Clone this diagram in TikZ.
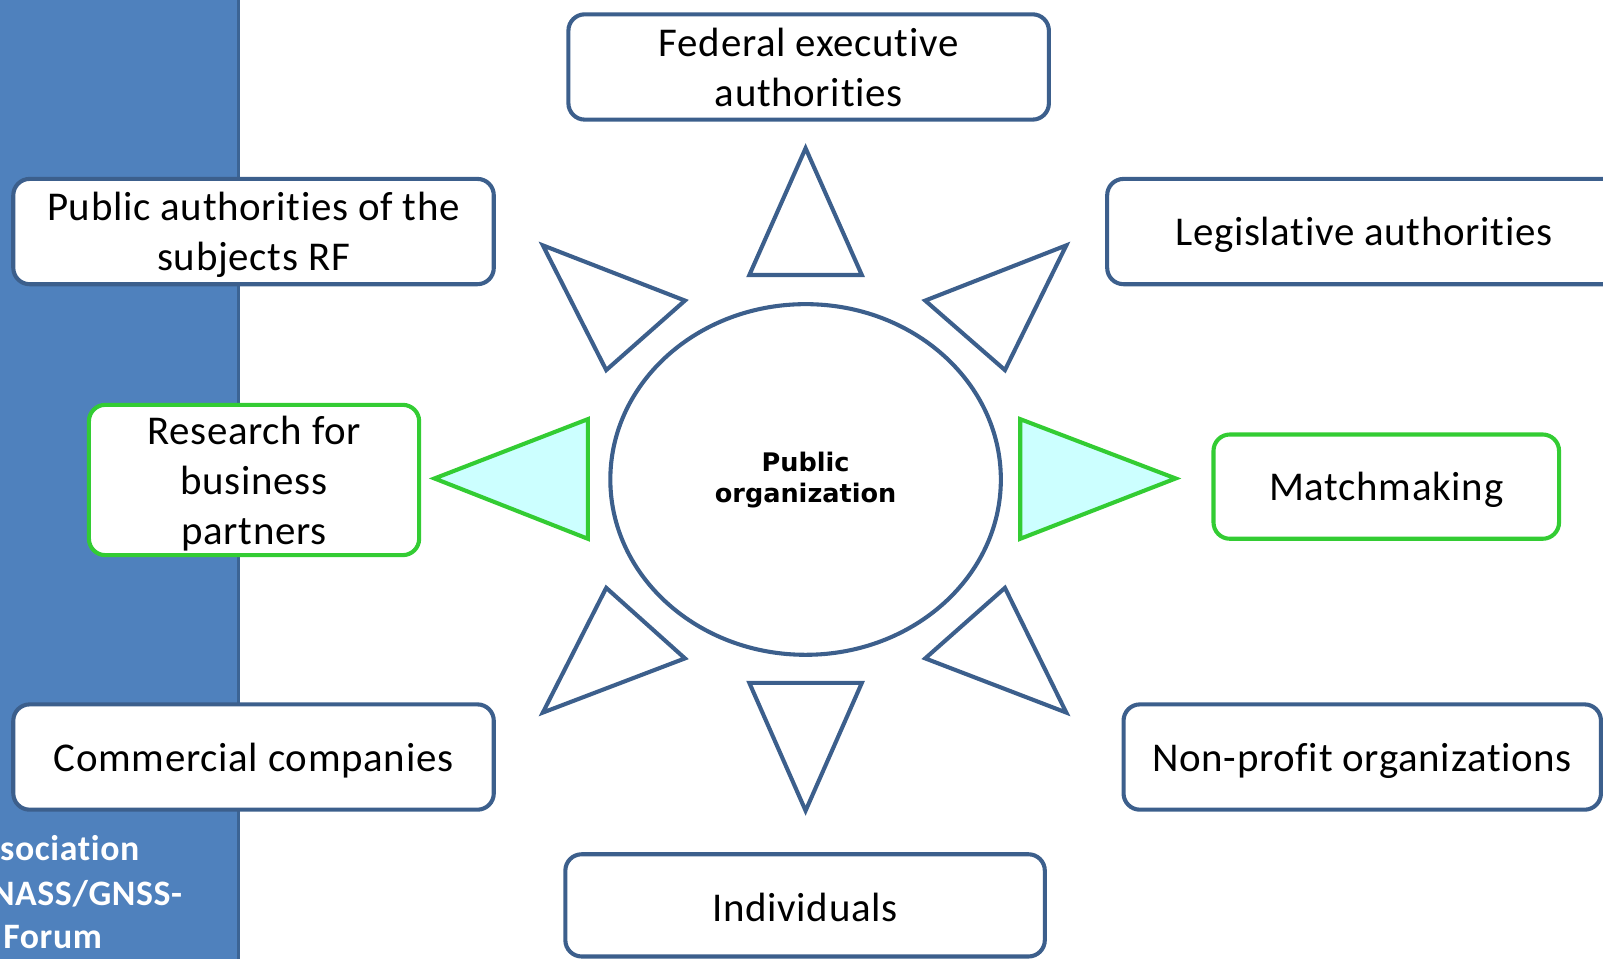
\documentclass[tikz,border=0pt]{standalone}
\usepackage{fontspec}
\usetikzlibrary{shapes.geometric}
\setmainfont{Carlito}[Ligatures=NoCommon, LetterSpace=1.7]
\newfontfamily\heavyfont{DejaVu Sans}
\definecolor{barblue}{HTML}{4F81BD}
\definecolor{barline}{HTML}{3C6494}
\definecolor{boxblue}{HTML}{3C5F8C}
\definecolor{boxgreen}{HTML}{33CC33}
\definecolor{lightcyan}{HTML}{CCFFFF}
\tikzset{
  box/.style={draw=boxblue, line width=4pt, rounded corners=16pt, fill=white,
    inner sep=0pt, font=\fontsize{40}{49}\selectfont,
    text height=30pt, text depth=2pt},
  twoline/.style={text height=30pt, text depth=51pt},
  threeline/.style={text height=30pt, text depth=100pt},
  gbox/.style={box, draw=boxgreen},
  tri/.style={draw=boxblue, line width=4pt, fill=white, line join=miter},
  gtri/.style={draw=boxgreen, line width=4pt, fill=lightcyan, line join=miter},
  bartext/.style={anchor=base west, inner sep=0pt, text=white,
    font=\fontsize{35}{44}\selectfont\bfseries}
}
\newcommand{\lines}[1]{\begin{tabular}[t]{@{}c@{}}#1\end{tabular}}
\begin{document}
\begin{tikzpicture}[x=1pt,y=-1pt]
\useasboundingbox (0,0) rectangle (1568,938);
% side bar
\fill[barblue] (0,0) rectangle (233,938);
\draw[barline, line width=3pt] (233,0) -- (233,938);
\node[bartext] (t1) at (0,842) {sociation};
\node[bartext] (t2) at (-9,886) {NASS/GNSS-};
\node[bartext] (t3) at (3,928) {Forum};
% boxes
\node[box, twoline, minimum width=470pt, minimum height=103pt] (fed) at (791,65.5) {\lines{Federal executive\\authorities}};
\node[box, twoline, minimum width=470pt, minimum height=103pt] (pub) at (248,226.5) {\lines{Public authorities of the\\subjects RF}};
\node[box, minimum width=502pt, minimum height=103pt] (leg) at (1334,226.5) {Legislative authorities};
\node[gbox, threeline, minimum width=323pt, minimum height=147pt] (res) at (248.5,469.5) {\lines{Research for\\business\\partners}};
\node[gbox, minimum width=338pt, minimum height=102pt] (match) at (1356,476) {Matchmaking};
\node[box, minimum width=470pt, minimum height=103pt] (com) at (248,740.5) {Commercial companies};
\node[box, minimum width=467pt, minimum height=103pt] (np) at (1332.5,740.5) {Non-profit organizations};
\node[box, text depth=0pt, text height=31pt, minimum width=469pt, minimum height=100pt] (ind) at (787.5,885.6) {Individuals};
% centre
\node[draw=boxblue, line width=4pt, ellipse, minimum width=382pt, minimum height=343pt, inner sep=0pt,
  font=\heavyfont\bfseries\fontsize{25}{30.3}\selectfont, text height=20pt, text depth=35.2pt] (org) at (788,469) {\lines{Public\\organization}};
% rays
\draw[tri] (788,145) -- (843,269) -- (733,269) -- cycle;
\draw[tri] (788,793) -- (843,668) -- (733,668) -- cycle;
\draw[tri] (531,240) -- (670,294) -- (593,362) -- cycle;
\draw[tri] (1043,240) -- (905,294) -- (983,362) -- cycle;
\draw[tri] (531,697) -- (670,644) -- (593,575) -- cycle;
\draw[tri] (1043,697) -- (905,644) -- (983,575) -- cycle;
\draw[gtri] (425,468) -- (575,410) -- (575,527) -- cycle;
\draw[gtri] (1150,468) -- (998,410) -- (998,527) -- cycle;
\end{tikzpicture}
\end{document}
